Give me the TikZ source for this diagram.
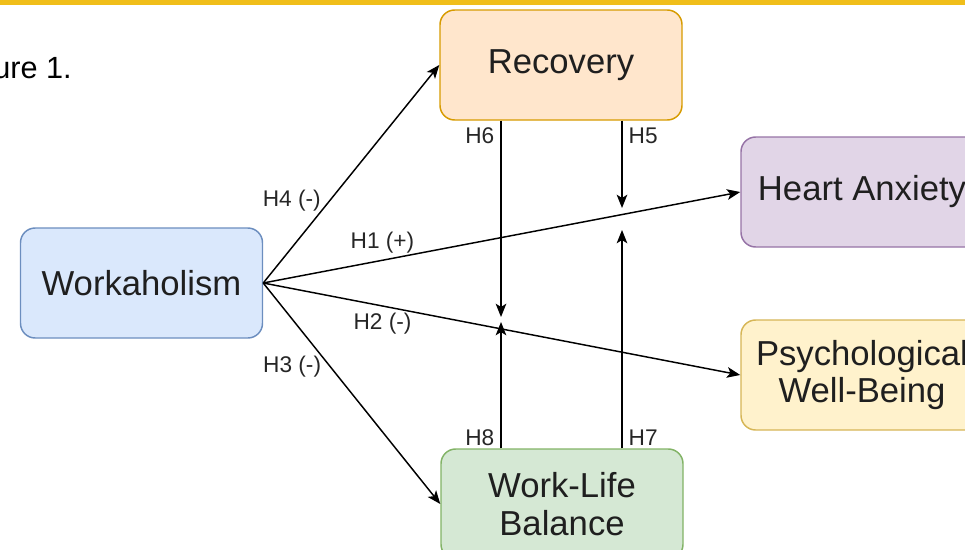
\documentclass[tikz,border=0pt]{standalone}
\usepackage{tikz}
\usepackage{xcolor}
\usepackage{fontspec}
\setmainfont{Liberation Sans}
\usetikzlibrary{arrows.meta}

\definecolor{barYellow}{HTML}{F0BE1A}
\definecolor{recFill}{HTML}{FFE6CC}
\definecolor{recLine}{HTML}{D79B00}
\definecolor{wrkFill}{HTML}{DAE8FC}
\definecolor{wrkLine}{HTML}{6C8EBF}
\definecolor{anxFill}{HTML}{E1D5E7}
\definecolor{anxLine}{HTML}{9673A6}
\definecolor{pwbFill}{HTML}{FFF2CC}
\definecolor{pwbLine}{HTML}{D6B656}
\definecolor{wlbFill}{HTML}{D5E8D4}
\definecolor{wlbLine}{HTML}{82B366}

\begin{document}
\begin{tikzpicture}[x=0.75pt,y=-0.75pt,
  box/.style={rounded corners=11pt,line width=1.1pt,minimum width=181.5pt,minimum height=82.5pt,align=center,font=\fontsize{26}{28}\selectfont,text=black!88},
  lbl/.style={font=\fontsize{17}{19}\selectfont,inner sep=1.5pt,text=black!85},
  arr/.style={-{Stealth[length=10pt,width=8pt,inset=2.5pt]},line width=1.1pt}]
\clip (0,0) rectangle (965,550);
\fill[barYellow] (0,0) rectangle (965,5);
\node (fig) at (72,78) [anchor=base east,inner sep=0pt,font=\fontsize{23}{26}\selectfont]{Figure 1.};
\node (rec) at (561,65) [box,fill=recFill,draw=recLine]{Recovery};
\node (wrk) at (141.5,283) [box,fill=wrkFill,draw=wrkLine]{Workaholism};
\node (anx) at (862,192) [box,fill=anxFill,draw=anxLine]{Heart Anxiety};
\node (pwb) at (862,375) [box,fill=pwbFill,draw=pwbLine]{Psychological\\Well-Being};
\node (wlb) at (562,504) [box,fill=wlbFill,draw=wlbLine]{Work-Life\\Balance};
\coordinate (h5) at (622,208);
\coordinate (h7) at (622,230);
\coordinate (h6) at (501,317);
\coordinate (h8) at (501,322);
\draw[arr] (wrk.east) -- node[lbl,pos=0.38,left=5pt]{H4 (-)} (rec.west);
\draw[arr] (wrk.east) -- node[lbl,pos=0.25,above=3pt]{H1 (+)} (anx.west);
\draw[arr] (wrk.east) -- node[lbl,pos=0.25,below=3pt]{H2 (-)} (pwb.west);
\draw[arr] (wrk.east) -- node[lbl,pos=0.38,left=5pt]{H3 (-)} (wlb.west);
\draw[arr] (h6 |- rec.south) -- node[lbl,pos=0.077,left=3pt]{H6} (h6);
\draw[arr] (h5 |- rec.south) -- node[lbl,pos=0.17,right=3pt]{H5} (h5);
\draw[arr] (h8 |- wlb.north) -- node[lbl,pos=0.087,left=3pt]{H8} (h8);
\draw[arr] (h7 |- wlb.north) -- node[lbl,pos=0.05,right=3pt]{H7} (h7);
\end{tikzpicture}
\end{document}
